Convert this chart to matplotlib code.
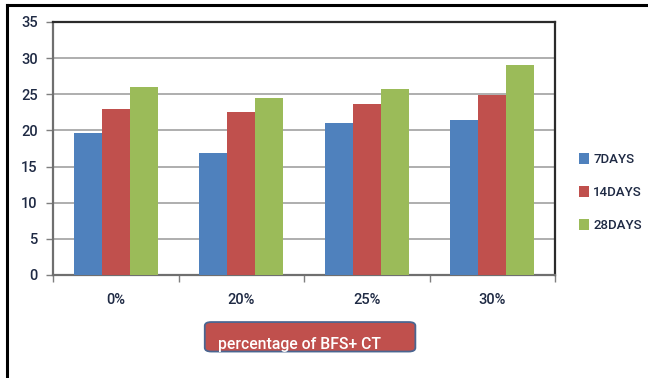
import matplotlib
matplotlib.use("Agg")
import matplotlib.pyplot as plt
import numpy as np
from matplotlib.patches import FancyBboxPatch
from matplotlib.lines import Line2D

plt.rcParams['font.family'] = ['Roboto', 'DejaVu Sans']
plt.rcParams['font.weight'] = 'medium'

categories = ['0%', '20%', '25%', '30%']
series_names = ['7DAYS', '14DAYS', '28DAYS']
days7 = [19.6, 16.9, 21.0, 21.4]
days14 = [23.0, 22.5, 23.6, 24.9]
days28 = [26.0, 24.5, 25.7, 29.1]
colors = ['#4F81BD', '#C0504D', '#9BBB59']
yticks = [0, 5, 10, 15, 20, 25, 30, 35]

fig = plt.figure(figsize=(6.48, 3.78), dpi=100)
ax = fig.add_axes([0.0818, 0.2725, 0.7747, 0.6693])

x = np.arange(len(categories))
w = 0.222
for i, (vals, c, name) in enumerate(zip([days7, days14, days28], colors, series_names)):
    ax.bar(x + (i - 1) * w, vals, width=w, color=c, label=name, zorder=3)

ax.set_xlim(-0.5, len(categories) - 0.5)
ax.set_ylim(0, 35)
ax.set_yticks(yticks)
ax.set_yticklabels([str(t) for t in yticks], fontsize=10.5, color='#1f2a44')
ax.yaxis.grid(True, color='#a8a8a8', lw=1.3, zorder=0)
ax.set_axisbelow(True)

# category labels centred, tick marks at category boundaries
ax.set_xticks(x)
ax.set_xticklabels(categories, fontsize=10.5, color='#1f2a44')
ax.tick_params(axis='x', length=0, pad=13)
ax.set_xticks(np.arange(-0.5, len(categories), 1.0), minor=True)
ax.tick_params(axis='x', which='minor', length=5, color='#7f7f7f', width=1)
ax.tick_params(axis='y', length=5, color='#7f7f7f', width=1, pad=6)

for side in ['top', 'right']:
    ax.spines[side].set_color('#2b2b2b')
    ax.spines[side].set_linewidth(1.6)
for side in ['left', 'bottom']:
    ax.spines[side].set_color('#6f6f6f')
    ax.spines[side].set_linewidth(1.6)

# legend
leg = fig.legend(loc='center left', bbox_to_anchor=(0.886, 0.49), frameon=False,
                 fontsize=9.5, handlelength=0.7, handleheight=0.9,
                 handletextpad=0.35, labelspacing=1.5, borderaxespad=0)
for t in leg.get_texts():
    t.set_color('#1f2a44')

# axis title box
box = FancyBboxPatch((0.316, 0.07), 0.325, 0.078,
                     boxstyle='round,pad=0,rounding_size=0.01',
                     transform=fig.transFigure, facecolor='#C0504D',
                     edgecolor='#4a6590', lw=1.3)
fig.patches.append(box)
fig.text(0.337, 0.088, 'percentage of BFS+ CT', color='white', fontsize=11.3,
         ha='left', va='center')

# outer frame (top and left edges)
fig.add_artist(Line2D([0.011, 1.0], [0.988, 0.988], transform=fig.transFigure,
                      color='black', lw=2.2))
fig.add_artist(Line2D([0.011, 0.011], [0.0, 0.988], transform=fig.transFigure,
                      color='black', lw=2.2))

fig.savefig('out.png', dpi=100)
